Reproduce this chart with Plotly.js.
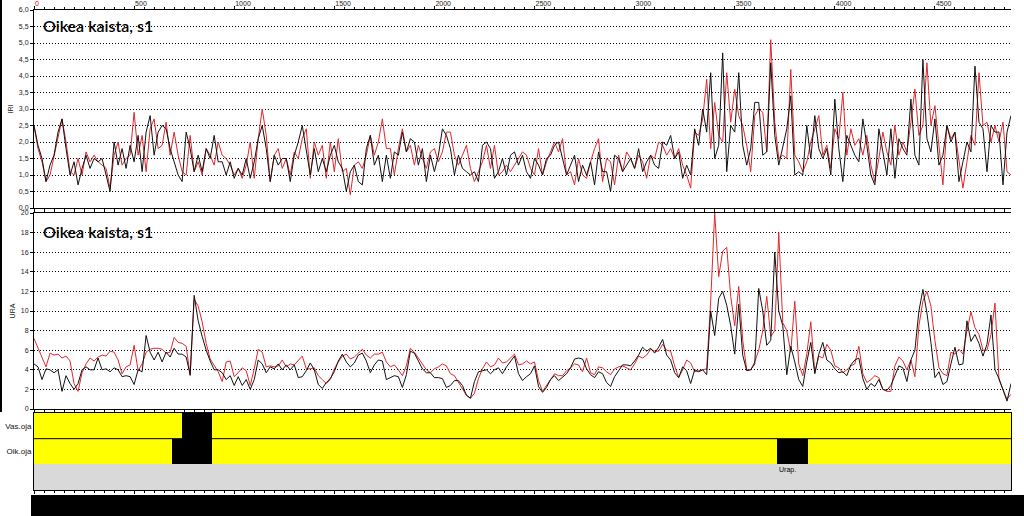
<!DOCTYPE html>
<html><head><meta charset="utf-8">
<script src="https://cdn.plot.ly/plotly-3.0.1.min.js"></script>
<style>html,body{margin:0;padding:0;background:#fff;overflow:hidden}#chart{width:1024px;height:516px}</style>
</head><body><div id="chart"></div>
<script>
// Measurement spacing along the road (m)
const STEP_M = 20;
const ROAD_END = 4880;

// IRI, right lane s1 (black = run 1, red = run 2)
const iriBlack = [
2.5,1.9,1.5,0.8,1.3,1.6,2.3,2.7,1.8,1.0,
1.4,0.7,1.2,1.6,1.2,1.5,1.4,1.5,1.0,0.5,
2.0,1.3,1.8,1.2,1.9,1.4,2.2,1.1,2.3,2.8,
1.6,2.3,2.5,2.4,1.8,1.4,1.0,0.8,2.3,1.8,
1.1,1.6,1.1,1.8,1.5,2.2,1.4,1.4,1.0,1.4,
0.9,1.2,1.0,1.5,0.9,1.4,2.1,2.5,1.8,0.8,
1.6,1.3,1.5,1.5,0.8,1.6,2.0,2.5,1.7,1.0,
1.8,1.1,1.5,1.1,1.6,1.9,1.4,1.2,0.5,1.1,
1.3,0.8,0.7,1.8,2.2,1.3,1.6,0.8,1.6,0.9,
1.7,1.6,2.3,1.7,2.1,2.0,1.3,1.8,0.8,1.6,
1.1,1.6,2.4,2.2,1.8,1.0,1.6,1.2,1.1,1.0,
1.1,0.8,1.9,2.0,1.8,0.9,1.1,1.5,1.0,1.6,
1.7,1.3,1.6,1.1,0.9,1.5,1.3,1.0,1.5,1.6,
1.9,2.0,1.5,1.0,1.3,1.6,0.8,1.3,1.0,1.4,
0.7,1.7,1.1,1.1,0.5,1.6,1.5,1.1,1.3,1.5,
1.2,1.8,1.1,1.4,1.6,1.3,1.2,2.0,1.9,2.2,
1.5,1.7,0.9,1.3,1.0,2.4,1.9,3.0,2.3,4.1,
1.5,1.9,4.7,1.1,2.5,2.3,4.1,1.9,1.3,1.8,
3.2,3.2,1.6,1.7,4.4,2.2,1.3,1.9,2.4,3.4,
1.0,1.1,1.0,2.5,1.5,2.8,1.8,1.5,1.8,1.0,
3.3,1.8,0.8,2.2,1.9,1.6,1.4,2.7,1.9,1.0,
0.7,2.4,1.7,1.0,2.4,0.9,2.1,1.8,1.6,3.3,
1.6,1.3,4.5,2.1,1.7,2.7,1.3,1.6,2.5,2.0,
2.3,0.8,1.4,2.0,1.7,4.3,2.6,2.4,1.1,2.5,
2.3,2.3,0.7,2.3,2.8];
const iriRed = [
2.5,1.8,1.4,0.8,1.0,1.6,2.1,2.7,2.0,1.1,
1.0,1.5,1.0,1.7,1.4,1.6,1.4,1.3,1.2,0.6,
1.6,2.0,1.3,1.5,1.6,2.9,1.6,2.2,1.1,2.4,
2.7,1.8,1.9,2.6,1.6,2.3,1.6,1.1,1.0,2.2,
1.1,1.4,1.0,1.8,1.6,1.3,2.0,1.6,1.5,1.3,
1.0,1.2,0.9,1.3,2.0,0.9,2.1,3.0,2.2,0.8,
1.6,1.8,1.2,1.5,1.0,1.7,1.5,2.1,2.4,0.9,
2.0,1.6,1.9,0.9,2.0,1.1,2.1,1.1,1.2,0.4,
1.3,1.4,1.2,1.6,2.2,1.6,2.0,2.7,1.8,1.8,
1.0,1.8,2.4,1.7,1.9,1.3,1.9,1.5,1.2,1.7,
1.8,1.4,1.7,2.3,2.3,1.6,1.3,1.6,1.9,1.2,
0.8,1.1,1.4,1.9,1.2,1.9,1.0,1.1,1.3,1.1,
1.3,1.5,1.7,1.6,1.2,1.0,1.8,1.0,1.4,1.7,
2.0,1.7,2.1,1.0,1.1,0.7,1.5,1.0,0.9,1.4,
1.8,2.1,0.8,1.5,1.4,0.7,1.6,1.1,1.7,1.5,
1.2,1.6,1.4,0.9,1.6,1.5,2.0,1.9,1.6,1.8,
1.5,1.8,1.3,1.0,0.6,2.3,2.2,2.7,3.9,1.8,
3.2,2.2,2.0,4.1,2.6,3.6,2.8,2.5,1.9,1.1,
2.8,3.0,2.9,1.7,5.1,2.6,1.5,1.6,1.5,4.2,
1.6,1.4,1.1,1.4,2.0,2.4,2.8,1.6,1.9,1.2,
2.4,2.1,3.5,1.6,2.4,1.9,2.1,1.6,2.2,1.3,
0.8,1.5,2.3,1.7,1.3,2.5,1.6,2.0,1.7,2.6,
3.6,2.2,2.5,4.4,2.5,3.1,1.8,0.7,2.5,2.1,
2.3,1.4,0.6,1.4,2.2,1.9,4.1,2.5,2.6,2.0,
2.5,2.0,2.6,1.1,1.0];

// URA (rut depth), right lane s1
const uraBlack = [
4.6,4.3,3.0,4.1,4.0,3.7,4.0,1.8,3.4,2.6,
2.0,2.6,4.0,4.3,4.0,4.0,5.2,4.0,4.1,3.8,
4.2,4.0,3.3,3.4,3.3,2.5,4.0,3.8,7.5,5.8,
5.0,5.8,4.8,5.8,5.3,6.2,5.6,5.6,5.3,3.5,
11.6,9.0,7.4,6.0,4.9,4.0,4.0,3.7,3.0,3.4,
2.4,3.3,2.4,3.0,2.0,3.0,5.0,4.6,3.7,4.3,
4.1,4.6,4.0,4.5,4.0,4.5,3.2,3.3,3.9,4.7,
4.0,2.5,2.1,2.7,3.1,3.8,4.9,5.6,4.8,4.3,
4.7,5.5,5.7,4.9,3.7,4.5,5.0,4.9,3.0,3.2,
3.4,3.3,2.2,3.5,5.9,5.7,4.9,4.1,3.7,3.7,
3.2,3.2,3.1,2.2,2.4,2.9,2.9,2.4,1.4,1.1,
2.8,3.8,3.9,4.0,3.6,4.0,4.2,3.6,4.3,4.8,
5.4,3.6,2.9,3.3,3.6,4.4,2.3,1.7,2.2,3.0,
3.4,2.9,3.3,3.6,4.2,5.1,5.2,5.1,4.1,3.5,
3.2,3.8,3.6,2.7,2.3,3.3,3.9,4.5,4.5,4.4,
4.9,5.5,6.3,5.9,6.2,5.7,6.3,7.1,5.5,5.0,
3.7,3.2,4.3,3.9,2.6,4.0,3.8,4.0,3.5,10.0,
7.5,11.3,12.0,10.6,8.5,5.6,10.7,5.5,3.9,4.0,
4.6,12.3,10.0,6.5,7.0,16.0,10.0,8.5,3.5,6.4,
4.8,3.0,2.3,4.8,6.8,3.6,5.6,6.8,5.0,4.7,
4.1,3.7,3.8,3.4,4.5,5.0,5.2,3.1,2.0,2.6,
2.3,3.0,2.0,1.9,2.4,3.5,4.4,4.2,2.8,5.0,
6.0,10.0,12.2,9.8,6.8,3.2,3.8,2.5,2.8,4.6,
6.3,4.5,4.6,9.0,6.9,7.6,6.7,5.4,6.6,9.6,
4.0,3.1,2.0,0.8,2.6];
const uraRed = [
7.2,6.2,5.4,4.3,5.7,5.5,5.6,5.2,5.4,4.9,
2.6,1.8,3.7,4.6,5.2,4.9,5.3,5.5,5.4,5.9,
5.8,5.0,3.6,4.3,4.5,6.5,3.9,4.6,5.8,6.1,
6.2,6.2,6.1,5.7,5.8,7.3,6.8,6.7,6.4,3.4,
11.2,10.5,8.9,6.7,5.1,4.5,3.8,2.8,4.8,4.9,
3.3,3.7,4.2,3.9,2.4,4.1,6.1,5.8,4.3,4.4,
4.3,4.4,5.0,4.3,4.6,4.5,4.9,5.4,4.1,4.1,
4.2,3.4,3.0,2.6,3.0,4.1,4.8,5.4,5.6,5.1,
5.3,5.7,6.1,5.5,5.2,5.6,5.6,5.8,4.8,4.3,
4.5,4.0,3.4,4.4,6.2,5.8,5.2,4.6,4.0,3.7,
4.1,4.3,4.6,4.4,3.6,3.4,2.7,2.0,1.4,1.1,
1.6,3.1,4.1,4.8,4.3,4.5,5.2,4.7,4.8,5.2,
5.6,4.5,4.6,4.9,4.6,4.8,2.9,1.8,2.4,3.0,
3.6,3.4,3.4,3.9,4.2,4.6,4.5,3.8,5.2,3.7,
3.5,4.3,4.2,3.8,3.5,4.1,4.3,4.4,4.2,4.0,
4.6,5.4,5.2,5.5,6.1,5.9,5.9,6.6,6.0,5.9,
4.4,3.2,4.0,5.0,4.7,3.8,3.9,4.0,4.1,11.0,
20.0,13.5,16.1,16.5,11.5,8.5,12.5,7.0,4.0,4.0,
4.8,6.0,8.0,11.5,7.4,8.0,18.0,8.8,8.0,5.8,
11.0,4.6,3.4,5.6,8.9,3.7,5.4,5.2,6.6,6.0,
4.4,4.2,3.7,4.0,4.4,4.6,6.4,3.6,2.7,3.0,
3.4,3.2,2.0,1.8,1.8,4.4,5.3,4.9,4.0,5.0,
3.3,8.5,11.0,12.0,10.5,7.0,4.2,3.6,3.4,5.8,
5.6,6.1,5.6,8.0,9.9,8.3,7.6,6.0,6.0,7.6,
10.8,3.0,2.0,1.0,1.5];

// Distance axis ticks
const xTickVals = [0,500,1000,1500,2000,2500,3000,3500,4000,4500];
const xTickText = ['0','500','1000','1500','2000','2500','3000','3500','4000','4500'];

// Ditch rows and their problem segments (m)
const laneRows = ['Vas.oja','Oik.oja'];
const vasStart = [740];
const vasEnd = [890];
const oikStart = [690, 3710];
const oikEnd = [890, 3865];
const oikNotes = ['', 'Urap.'];

const panelTitle = 'Oikea kaista, s1';

const stations = iriBlack.map((_, i) => i * STEP_M);

const RED = '#e3262b', BLK = '#111111';
const traces = [
  {x: stations, y: iriRed, xaxis:'x', yaxis:'y', mode:'lines', line:{color:RED, width:1}, hoverinfo:'skip'},
  {x: stations, y: iriBlack, xaxis:'x', yaxis:'y', mode:'lines', line:{color:BLK, width:1}, hoverinfo:'skip'},
  {x: stations, y: uraRed, xaxis:'x2', yaxis:'y2', mode:'lines', line:{color:RED, width:1}, hoverinfo:'skip'},
  {x: stations, y: uraBlack, xaxis:'x2', yaxis:'y2', mode:'lines', line:{color:BLK, width:1}, hoverinfo:'skip'},
  {type:'bar', orientation:'h', xaxis:'x3', yaxis:'y3', y:[2.5,1.5,0.5], base:[0,0,0],
   x:[ROAD_END,ROAD_END,ROAD_END], width:[1,1,1], marker:{color:['#ffff00','#ffff00','#d9d9d9'], line:{width:0}}, hoverinfo:'skip'},
  {type:'bar', orientation:'h', xaxis:'x3', yaxis:'y3', y:vasStart.map(()=>2.5), base:vasStart,
   x:vasStart.map((s,i)=>vasEnd[i]-s), width:vasStart.map(()=>1), marker:{color:'#000', line:{width:0}}, hoverinfo:'skip'},
  {type:'bar', orientation:'h', xaxis:'x3', yaxis:'y3', y:oikStart.map(()=>1.5), base:oikStart,
   x:oikStart.map((s,i)=>oikEnd[i]-s), width:oikStart.map(()=>1), marker:{color:'#000', line:{width:0}}, hoverinfo:'skip'}
];

const tickTextColored = xTickText.map((t,i)=> i===0 ? '<span style="color:#e00000">'+t+'</span>' : t);

const TICKFONT = {family:'Liberation Sans, Arial, sans-serif', size:7, color:'#222'};
const GRID = {showgrid:true, gridcolor:'#000', griddash:'1px,2px', gridwidth:1};
const common = {showline:true, linecolor:'#000', linewidth:1, zeroline:false, tickcolor:'#000', tickfont:TICKFONT};
const xCommon = Object.assign({}, common, {range:[0,ROAD_END], showgrid:false, ticks:'outside', ticklen:3, mirror:'ticks',
  tickvals:xTickVals, minor:{dtick:50, tick0:0, ticks:'outside', ticklen:2, tickcolor:'#000', showgrid:false}});

const H = 480, W = 977;
const layout = {
  width:1024, height:516,
  margin:{l:34, r:13, t:10, b:26, pad:0},
  paper_bgcolor:'#fff', plot_bgcolor:'#fff',
  showlegend:false, separators:',.', barmode:'overlay', bargap:0,
  font:{family:'Liberation Sans, Arial, sans-serif', size:8, color:'#222'},
  xaxis: Object.assign({}, xCommon, {domain:[0,1], anchor:'y', side:'top', ticktext:tickTextColored,
    showticklabels:true, ticklabelposition:'outside right'}),
  xaxis2: Object.assign({}, xCommon, {domain:[0,1], anchor:'y2', matches:'x', showticklabels:false}),
  xaxis3: Object.assign({}, xCommon, {domain:[0,1], anchor:'y3', matches:'x', showticklabels:false}),
  yaxis: Object.assign({}, common, GRID, {domain:[(490-208)/H, 1], anchor:'x', range:[0,6], dtick:0.5, tick0:0, tickformat:'.1f',
    ticks:'outside', ticklen:3, ticklabelshift:1.5,
    title:{text:'IRI', font:{size:7, color:'#222'}, standoff:4}}),
  yaxis4: Object.assign({}, common, {overlaying:'y', side:'right', anchor:'x', range:[0,6], dtick:0.5, tick0:0, tickformat:'.1f',
    ticks:'outside', ticklen:3, showgrid:false, ticklabelshift:1.5}),
  yaxis2: Object.assign({}, common, GRID, {domain:[(490-409)/H, (490-213)/H], anchor:'x2', range:[0,20], dtick:2, tick0:0,
    ticks:'outside', ticklen:3, ticklabelshift:-1.5,
    title:{text:'URA', font:{size:7, color:'#222'}, standoff:4}}),
  yaxis5: Object.assign({}, common, {overlaying:'y2', side:'right', anchor:'x2', range:[0,20], dtick:2, tick0:0,
    ticks:'outside', ticklen:3, showgrid:false, ticklabelshift:-1.5}),
  yaxis3: Object.assign({}, common, {domain:[0, (490-413)/H], anchor:'x3', range:[0,3], tickvals:[2.5,1.5], ticktext:laneRows,
    ticks:'', showgrid:false, mirror:true, tickfont:{family:'Liberation Sans, Arial, sans-serif', size:8, color:'#111'}}),
  shapes: [
    {type:'line', xref:'paper', yref:'y3', x0:0, x1:1, y0:2, y1:2, line:{color:'#000', width:1}},
    {type:'rect', xref:'paper', yref:'paper', x0:(31-34)/W, x1:(1024-34)/W, y0:-26/H, y1:-5/H, fillcolor:'#000', line:{width:0}},
    {type:'rect', xref:'paper', yref:'paper', x0:-34/W, x1:-32/W, y0:(490-412)/H, y1:500/H, fillcolor:'#000', line:{width:0}}
  ],
  annotations: [
    {xref:'paper', yref:'paper', x:7/W, y:(490-26)/H, xanchor:'left', yanchor:'middle', showarrow:false,
     text:panelTitle, font:{family:'Lato, Noto Sans, sans-serif', size:16, weight:600, color:'#000'}},
    {xref:'paper', yref:'paper', x:7/W, y:(490-231)/H, xanchor:'left', yanchor:'middle', showarrow:false,
     text:panelTitle, font:{family:'Lato, Noto Sans, sans-serif', size:16, weight:600, color:'#000'}}
  ].concat(oikStart.map((s,i)=>({xref:'x3', yref:'y3', x:s, y:1.0, xanchor:'left', yanchor:'top', showarrow:false,
     text:oikNotes[i], font:{family:'Liberation Sans, Arial, sans-serif', size:7, color:'#000'}})).filter(a=>a.text))
};

Plotly.newPlot('chart', traces, layout, {staticPlot:true, displayModeBar:false});
</script></body></html>
